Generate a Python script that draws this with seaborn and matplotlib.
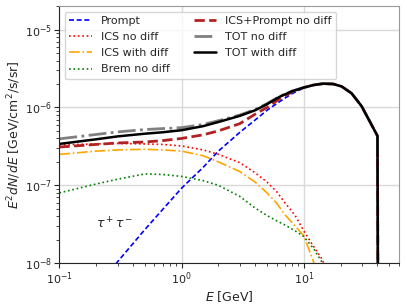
import numpy as np
import matplotlib
matplotlib.use("Agg")
import matplotlib.pyplot as plt
import seaborn as sns

# ---- datos (E en GeV, E^2 dN/dE en GeV/cm^2/s/sr) ----

energia = [0.1, 0.2, 0.3, 0.5, 0.7, 1.0, 1.5, 2.0, 3.0, 4.0, 5.0, 6.4, 8.0,
           10.0, 12.0, 14.4, 17.4, 20.4, 24.6, 29.7, 34.7, 40.1, 40.7]

# curvas que llegan hasta el corte en la masa
prompt = [1.3e-9, 4.5e-9, 1.05e-8, 2.7e-8, 4.9e-8, 9.2e-8, 1.7e-7, 2.75e-7,
          4.8e-7, 6.9e-7, 9.2e-7, 1.2e-6, 1.5e-6, 1.78e-6, 1.93e-6, 2.02e-6,
          2.0e-6, 1.86e-6, 1.52e-6, 1.04e-6, 6.6e-7, 4.3e-7, 1e-10]
ics_prompt_nodiff = [3.1e-7, 3.35e-7, 3.5e-7, 3.6e-7, 3.75e-7, 4.0e-7, 4.45e-7,
                     5.0e-7, 6.2e-7, 8.2e-7, 1.0e-6, 1.3e-6, 1.58e-6, 1.8e-6,
                     1.94e-6, 2.02e-6, 2.0e-6, 1.86e-6, 1.52e-6, 1.04e-6,
                     6.6e-7, 4.3e-7, 1e-10]
tot_nodiff = [3.95e-7, 4.5e-7, 4.85e-7, 5.2e-7, 5.35e-7, 5.5e-7, 6.05e-7, 6.75e-7,
              8.0e-7, 9.4e-7, 1.12e-6, 1.4e-6, 1.62e-6, 1.8e-6, 1.94e-6,
              2.02e-6, 2.0e-6, 1.86e-6, 1.52e-6, 1.04e-6, 6.6e-7, 4.3e-7, 1e-10]
tot_diff = [3.4e-7, 3.9e-7, 4.25e-7, 4.6e-7, 4.8e-7, 5.1e-7, 5.75e-7, 6.5e-7,
            7.8e-7, 9.2e-7, 1.1e-6, 1.38e-6, 1.61e-6, 1.8e-6, 1.94e-6,
            2.02e-6, 2.0e-6, 1.86e-6, 1.52e-6, 1.04e-6, 6.6e-7, 4.3e-7, 1e-10]

# curvas de ICS y bremsstrahlung (caen antes del corte)
energia_ics = [0.1, 0.2, 0.3, 0.5, 0.7, 1.0, 1.5, 2.0, 3.0, 4.0, 5.0, 6.0,
               7.0, 8.5, 10.0, 12.0, 14.0, 17.0]
ics_nodiff = [3.3e-7, 3.4e-7, 3.45e-7, 3.4e-7, 3.35e-7, 3.2e-7, 2.85e-7, 2.5e-7,
              1.95e-7, 1.45e-7, 1.1e-7, 8.3e-8, 6.0e-8, 4.1e-8, 2.6e-8, 1.65e-8,
              1.15e-8, 6e-9]
ics_diff = [2.5e-7, 2.75e-7, 2.85e-7, 2.9e-7, 2.85e-7, 2.75e-7, 2.4e-7, 2.0e-7,
            1.5e-7, 1.1e-7, 8e-8, 5.9e-8, 4.2e-8, 3.0e-8, 2.25e-8, 1.05e-8,
            4e-9, 1e-9]
brem_nodiff = [8e-8, 1.04e-7, 1.2e-7, 1.4e-7, 1.38e-7, 1.3e-7, 1.15e-7, 1.0e-7,
               7.2e-8, 5.1e-8, 4.1e-8, 3.5e-8, 3.1e-8, 2.6e-8, 2.2e-8, 1.55e-8,
               1.05e-8, 5.5e-9]

canal = r"$\tau^+\tau^-$"

# ---- figura -------------------------------------------------------------------

sns.set_style("ticks")
plt.rcParams["font.family"] = ["DejaVu Sans"]

fig, ax = plt.subplots(figsize=(4.07, 3.05), dpi=100)
fig.subplots_adjust(left=0.146, right=0.980, bottom=0.137, top=0.980)

curvas = [
    (energia, prompt, "Prompt", "blue", (0, (3, 1.6)), 1.2),
    (energia_ics, ics_nodiff, "ICS no diff", "red", ":", 1.2),
    (energia_ics, ics_diff, "ICS with diff", "orange", "-.", 1.2),
    (energia_ics, brem_nodiff, "Brem no diff", "green", ":", 1.2),
    (energia, ics_prompt_nodiff, "ICS+Prompt no diff", "firebrick", "--", 2.0),
    (energia, tot_nodiff, "TOT no diff", "gray", "-.", 2.0),
    (energia, tot_diff, "TOT with diff", "black", "-", 1.8),
]
for x, y, nombre, color, estilo, ancho in curvas:
    sns.lineplot(x=x, y=y, ax=ax, label=nombre, color=color, linestyle=estilo,
                 linewidth=ancho, estimator=None, sort=False)

ax.set_xscale("log")
ax.set_yscale("log")
ax.set_xlim(0.1, 60)
ax.set_ylim(1e-8, 2e-5)
ax.grid(which="major", color="#d9d9d9", linewidth=1.0)
ax.tick_params(labelsize=8, pad=2)
ax.set_xlabel(r"$E$ [GeV]", fontsize=9, labelpad=1)
ax.set_ylabel(r"$E^2 dN/dE$ [GeV/cm$^2$/s/sr]", fontsize=9, labelpad=1)
for lado in ["top", "right"]:
    ax.spines[lado].set_color("#999999")

ax.text(0.2, 3.2e-8, canal, fontsize=9, va="center")
ax.legend(loc="upper left", ncol=2, fontsize=8, columnspacing=2.2,
          labelspacing=0.55)

fig.savefig("out.png", dpi=100)
